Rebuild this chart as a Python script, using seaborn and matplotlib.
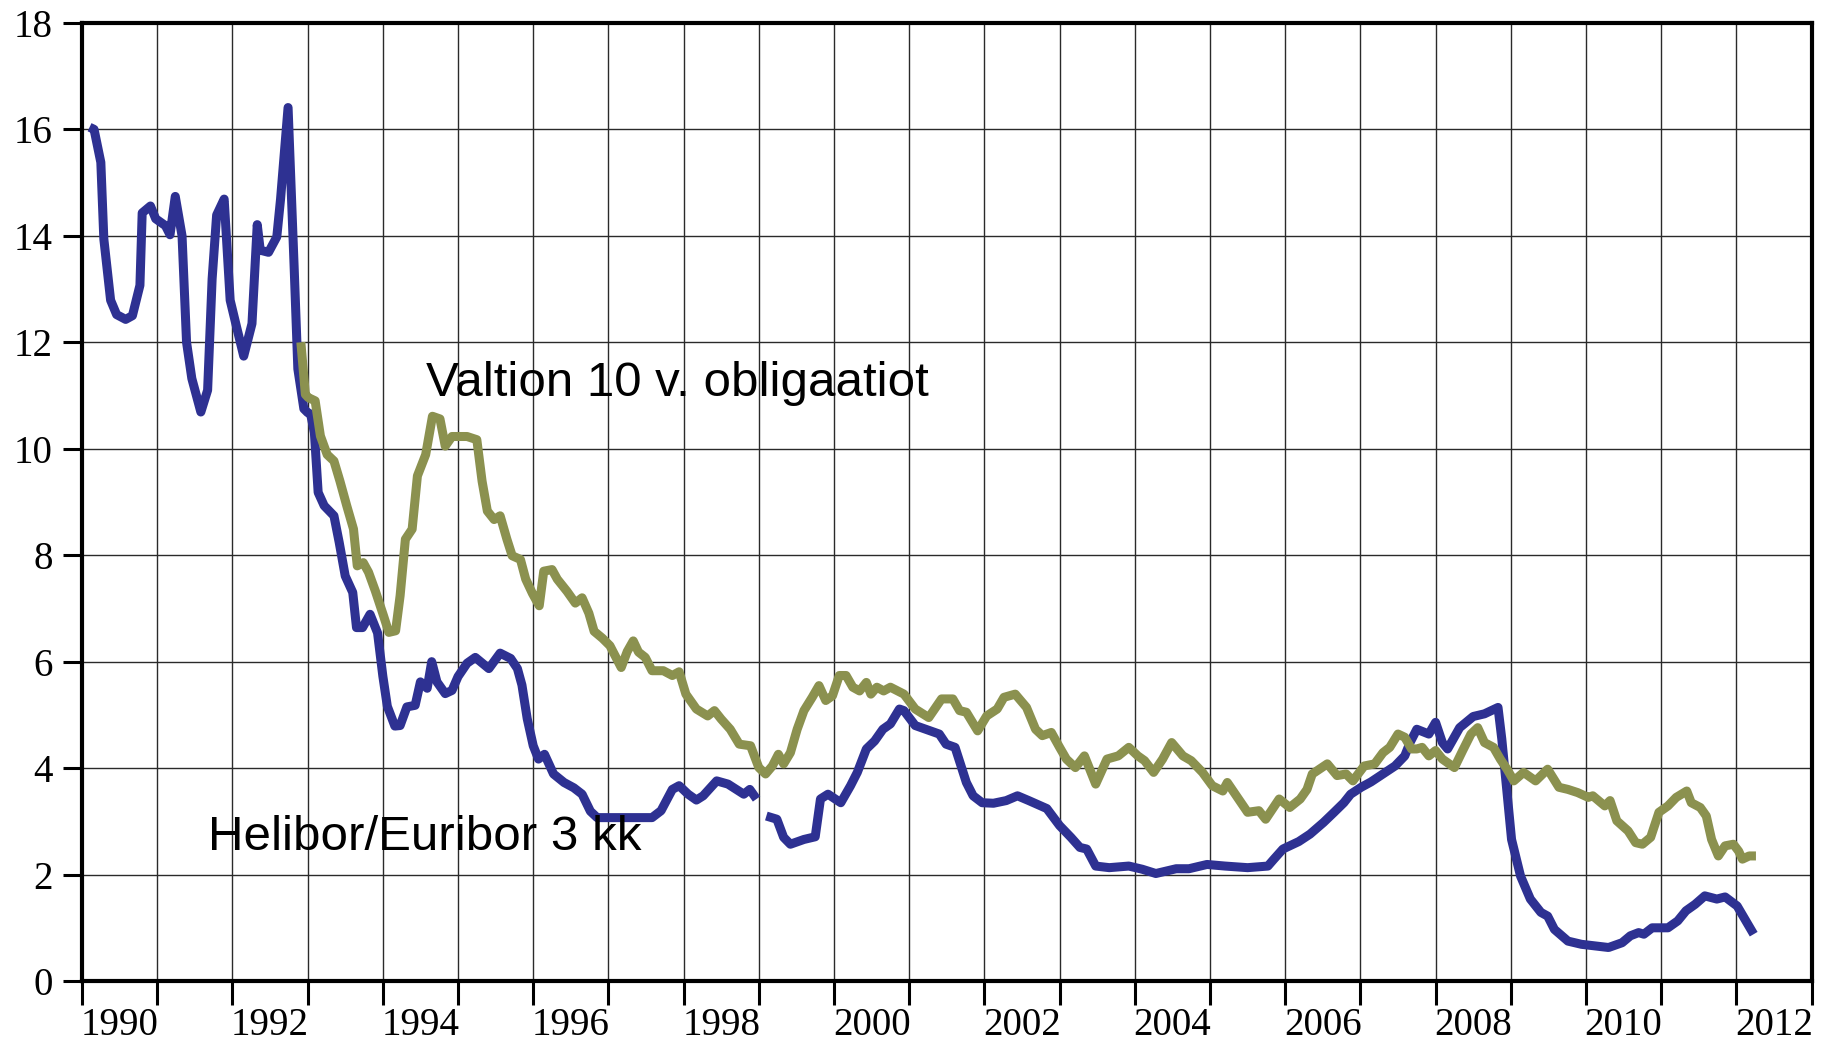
import matplotlib
matplotlib.use("Agg")
import matplotlib.pyplot as plt
import seaborn as sns
import pandas as pd
from matplotlib.ticker import FixedLocator, FixedFormatter, NullFormatter

# Helibor 3 kk (1990 - 1998)
helibor_year = [1990.10, 1990.16, 1990.25, 1990.29, 1990.38, 1990.46, 1990.58, 1990.67, 1990.77, 1990.80,
                1990.91, 1990.98, 1991.11, 1991.17, 1991.24, 1991.33, 1991.39, 1991.46, 1991.58, 1991.67,
                1991.73, 1991.79, 1991.89, 1991.97, 1992.06, 1992.15, 1992.26, 1992.33, 1992.37, 1992.48,
                1992.59, 1992.64, 1992.74, 1992.82, 1992.87, 1992.95, 1993.00, 1993.04, 1993.09, 1993.14,
                1993.22, 1993.35, 1993.42, 1993.50, 1993.60, 1993.65, 1993.73, 1993.83, 1993.93, 1994.00,
                1994.06, 1994.16, 1994.23, 1994.32, 1994.43, 1994.50, 1994.59, 1994.65, 1994.72, 1994.83,
                1994.92, 1995.00, 1995.12, 1995.23, 1995.41, 1995.56, 1995.70, 1995.79, 1995.85, 1995.92,
                1996.00, 1996.07, 1996.15, 1996.27, 1996.41, 1996.54, 1996.65, 1996.76, 1996.85, 1997.08,
                1997.34, 1997.58, 1997.70, 1997.85, 1997.94, 1998.06, 1998.17, 1998.26, 1998.44, 1998.59,
                1998.80, 1998.88, 1998.97]
helibor_rate = [16.04, 16.00, 15.38, 13.94, 12.79, 12.52, 12.43, 12.50, 13.07, 14.43,
                14.56, 14.32, 14.19, 14.02, 14.74, 14.00, 12.00, 11.32, 10.69, 11.10,
                13.19, 14.39, 14.69, 12.79, 12.26, 11.74, 12.35, 14.21, 13.73, 13.69,
                13.98, 14.69, 16.41, 13.44, 11.50, 10.75, 10.68, 10.65, 10.30, 9.18,
                8.93, 8.74, 8.24, 7.61, 7.30, 6.64, 6.64, 6.89, 6.54, 5.73,
                5.16, 4.79, 4.80, 5.15, 5.18, 5.62, 5.50, 6.00, 5.62, 5.40,
                5.46, 5.72, 5.97, 6.08, 5.87, 6.16, 6.06, 5.87, 5.56, 4.93,
                4.42, 4.17, 4.26, 3.89, 3.73, 3.63, 3.51, 3.19, 3.07, 3.07,
                3.07, 3.07, 3.20, 3.60, 3.67, 3.51, 3.40, 3.48, 3.76, 3.70,
                3.51, 3.60, 3.42]

# Euribor 3 kk (1999 - 2012)
euribor_year = [1999.10, 1999.24, 1999.33, 1999.42, 1999.60, 1999.75, 1999.82, 1999.92, 2000.09, 2000.22,
                2000.31, 2000.43, 2000.54, 2000.65, 2000.75, 2000.87, 2000.93, 2001.08, 2001.40, 2001.49,
                2001.61, 2001.76, 2001.85, 2001.97, 2002.12, 2002.29, 2002.44, 2002.59, 2002.83, 2003.00,
                2003.15, 2003.27, 2003.36, 2003.48, 2003.66, 2003.92, 2004.10, 2004.28, 2004.55, 2004.72,
                2004.96, 2005.20, 2005.50, 2005.77, 2005.85, 2005.97, 2006.18, 2006.33, 2006.51, 2006.65,
                2006.78, 2006.87, 2007.01, 2007.14, 2007.30, 2007.46, 2007.59, 2007.66, 2007.75, 2007.91,
                2008.00, 2008.09, 2008.16, 2008.32, 2008.50, 2008.65, 2008.83, 2008.88, 2008.95, 2009.01,
                2009.13, 2009.26, 2009.40, 2009.49, 2009.58, 2009.76, 2009.94, 2010.12, 2010.30, 2010.48,
                2010.59, 2010.70, 2010.77, 2010.88, 2011.09, 2011.22, 2011.33, 2011.45, 2011.58, 2011.74,
                2011.85, 2012.01, 2012.23]
euribor_rate = [3.10, 3.04, 2.70, 2.57, 2.66, 2.71, 3.42, 3.51, 3.35, 3.67,
                3.92, 4.36, 4.51, 4.73, 4.83, 5.11, 5.08, 4.80, 4.64, 4.45,
                4.39, 3.73, 3.48, 3.35, 3.34, 3.39, 3.48, 3.39, 3.24, 2.92,
                2.70, 2.51, 2.48, 2.16, 2.13, 2.16, 2.10, 2.02, 2.11, 2.11,
                2.19, 2.16, 2.13, 2.16, 2.29, 2.48, 2.62, 2.76, 2.98, 3.17,
                3.35, 3.51, 3.64, 3.74, 3.89, 4.04, 4.23, 4.48, 4.73, 4.64,
                4.86, 4.48, 4.36, 4.76, 4.97, 5.02, 5.14, 4.55, 3.54, 2.66,
                1.97, 1.54, 1.29, 1.22, 0.97, 0.75, 0.69, 0.66, 0.63, 0.72,
                0.85, 0.91, 0.88, 1.00, 1.00, 1.13, 1.32, 1.44, 1.60, 1.54,
                1.58, 1.41, 0.88]

# Valtion 10 v. obligaatiot (1992 - 2012)
valtion_year = [1992.91, 1992.97, 1993.01, 1993.10, 1993.17, 1993.26, 1993.35, 1993.43, 1993.52, 1993.61,
                1993.66, 1993.74, 1993.81, 1993.90, 1994.01, 1994.08, 1994.17, 1994.23, 1994.30, 1994.39,
                1994.46, 1994.57, 1994.66, 1994.76, 1994.83, 1994.92, 1995.12, 1995.25, 1995.32, 1995.39,
                1995.48, 1995.56, 1995.65, 1995.72, 1995.83, 1995.90, 1995.99, 1996.08, 1996.14, 1996.25,
                1996.32, 1996.45, 1996.56, 1996.65, 1996.74, 1996.81, 1996.92, 1997.02, 1997.17, 1997.25,
                1997.33, 1997.40, 1997.49, 1997.58, 1997.73, 1997.85, 1997.94, 1998.03, 1998.17, 1998.32,
                1998.41, 1998.50, 1998.62, 1998.74, 1998.89, 1999.00, 1999.09, 1999.18, 1999.26, 1999.33,
                1999.42, 1999.51, 1999.60, 1999.71, 1999.80, 1999.89, 1999.98, 2000.07, 2000.16, 2000.25,
                2000.34, 2000.43, 2000.49, 2000.57, 2000.66, 2000.75, 2000.93, 2001.08, 2001.26, 2001.43,
                2001.58, 2001.67, 2001.76, 2001.91, 2002.03, 2002.17, 2002.26, 2002.41, 2002.56, 2002.68,
                2002.77, 2002.89, 2003.00, 2003.09, 2003.21, 2003.33, 2003.48, 2003.63, 2003.78, 2003.92,
                2004.04, 2004.13, 2004.25, 2004.37, 2004.49, 2004.64, 2004.75, 2004.90, 2005.03, 2005.17,
                2005.23, 2005.38, 2005.50, 2005.65, 2005.74, 2005.92, 2006.06, 2006.20, 2006.29, 2006.36,
                2006.56, 2006.69, 2006.81, 2006.90, 2007.05, 2007.19, 2007.30, 2007.39, 2007.50, 2007.59,
                2007.68, 2007.75, 2007.82, 2007.91, 2008.00, 2008.09, 2008.25, 2008.36, 2008.47, 2008.56,
                2008.65, 2008.77, 2008.86, 2008.95, 2009.04, 2009.17, 2009.33, 2009.49, 2009.64, 2009.76,
                2009.89, 2010.03, 2010.09, 2010.25, 2010.32, 2010.41, 2010.56, 2010.66, 2010.75, 2010.86,
                2010.97, 2011.09, 2011.20, 2011.34, 2011.40, 2011.52, 2011.60, 2011.67, 2011.76, 2011.85,
                2011.96, 2012.03, 2012.08, 2012.17, 2012.26]
valtion_rate = [12.00, 11.02, 10.96, 10.90, 10.24, 9.89, 9.77, 9.39, 8.93, 8.49,
                7.80, 7.86, 7.68, 7.33, 6.86, 6.55, 6.58, 7.24, 8.30, 8.49,
                9.49, 9.89, 10.61, 10.56, 10.05, 10.23, 10.23, 10.17, 9.39, 8.83,
                8.67, 8.74, 8.30, 7.99, 7.92, 7.55, 7.28, 7.05, 7.70, 7.73,
                7.55, 7.32, 7.10, 7.20, 6.91, 6.57, 6.44, 6.30, 5.89, 6.19,
                6.39, 6.18, 6.08, 5.83, 5.83, 5.74, 5.81, 5.39, 5.11, 4.98,
                5.08, 4.92, 4.73, 4.45, 4.42, 4.01, 3.89, 4.04, 4.26, 4.08,
                4.29, 4.73, 5.08, 5.33, 5.55, 5.27, 5.36, 5.74, 5.74, 5.52,
                5.45, 5.61, 5.39, 5.52, 5.45, 5.52, 5.39, 5.11, 4.95, 5.30,
                5.30, 5.08, 5.05, 4.70, 4.98, 5.11, 5.33, 5.39, 5.14, 4.73,
                4.61, 4.67, 4.39, 4.17, 4.01, 4.23, 3.70, 4.17, 4.23, 4.39,
                4.23, 4.14, 3.92, 4.17, 4.48, 4.23, 4.14, 3.92, 3.67, 3.57,
                3.73, 3.42, 3.17, 3.20, 3.04, 3.42, 3.26, 3.42, 3.60, 3.89,
                4.08, 3.86, 3.89, 3.76, 4.04, 4.08, 4.29, 4.39, 4.64, 4.58,
                4.36, 4.36, 4.39, 4.23, 4.33, 4.17, 4.01, 4.33, 4.64, 4.76,
                4.48, 4.39, 4.17, 3.98, 3.76, 3.92, 3.76, 3.98, 3.64, 3.60,
                3.54, 3.45, 3.48, 3.29, 3.39, 3.01, 2.82, 2.60, 2.57, 2.70,
                3.17, 3.29, 3.45, 3.57, 3.35, 3.26, 3.10, 2.66, 2.35, 2.54,
                2.57, 2.44, 2.29, 2.35, 2.35]

blue = "#2E3192"
olive = "#8B914F"

sns.set_theme(style="white")
plt.rcParams['font.family'] = ['Liberation Serif', 'DejaVu Serif']

fig, ax = plt.subplots(figsize=(18.31, 10.41), dpi=100)
fig.subplots_adjust(left=0.0448, right=0.9894, bottom=0.0576, top=0.978)

series = [(helibor_year, helibor_rate, blue),
          (euribor_year, euribor_rate, blue),
          (valtion_year, valtion_rate, olive)]
for yrs, rates, col in series:
    d = pd.DataFrame({"vuosi": yrs, "korko": rates})
    sns.lineplot(data=d, x="vuosi", y="korko", ax=ax, color=col, linewidth=6.5,
                 sort=False, estimator=None, solid_capstyle="butt", solid_joinstyle="round")

ax.set_xlim(1990, 2013)
ax.set_ylim(0, 18)
ax.set_xlabel("")
ax.set_ylabel("")

# vuosiruudukko, otsikot kahden vuoden valein keskelle vuotta
ax.xaxis.set_major_locator(FixedLocator(list(range(1990, 2014))))
ax.xaxis.set_major_formatter(NullFormatter())
label_years = list(range(1990, 2013, 2))
ax.xaxis.set_minor_locator(FixedLocator([y + 0.5 for y in label_years]))
ax.xaxis.set_minor_formatter(FixedFormatter([str(y) for y in label_years]))
ax.set_yticks(range(0, 19, 2))

ax.grid(True, which="major", color="#2a2a2a", linewidth=1.0)
ax.set_axisbelow(True)

ax.tick_params(axis="x", which="major", bottom=True, direction="out", length=17, width=2.2, color="black")
ax.tick_params(axis="x", which="minor", bottom=True, length=0, pad=19, labelsize=28, labelcolor="black")
ax.tick_params(axis="y", left=True, direction="out", length=14, width=2.2, pad=7, labelsize=28,
               color="black", labelcolor="black")

for sp in ax.spines.values():
    sp.set_visible(True)
    sp.set_color("black")
    sp.set_linewidth(3.0)

sans = ['Liberation Sans', 'DejaVu Sans']
ax.text(1994.57, 11.0, "Valtion 10 v. obligaatiot", fontsize=35.5, family=sans, va="baseline", color="black")
ax.text(1991.68, 2.46, "Helibor/Euribor 3 kk", fontsize=35.5, family=sans, va="baseline", color="black")

plt.savefig("out.png", dpi=100)
